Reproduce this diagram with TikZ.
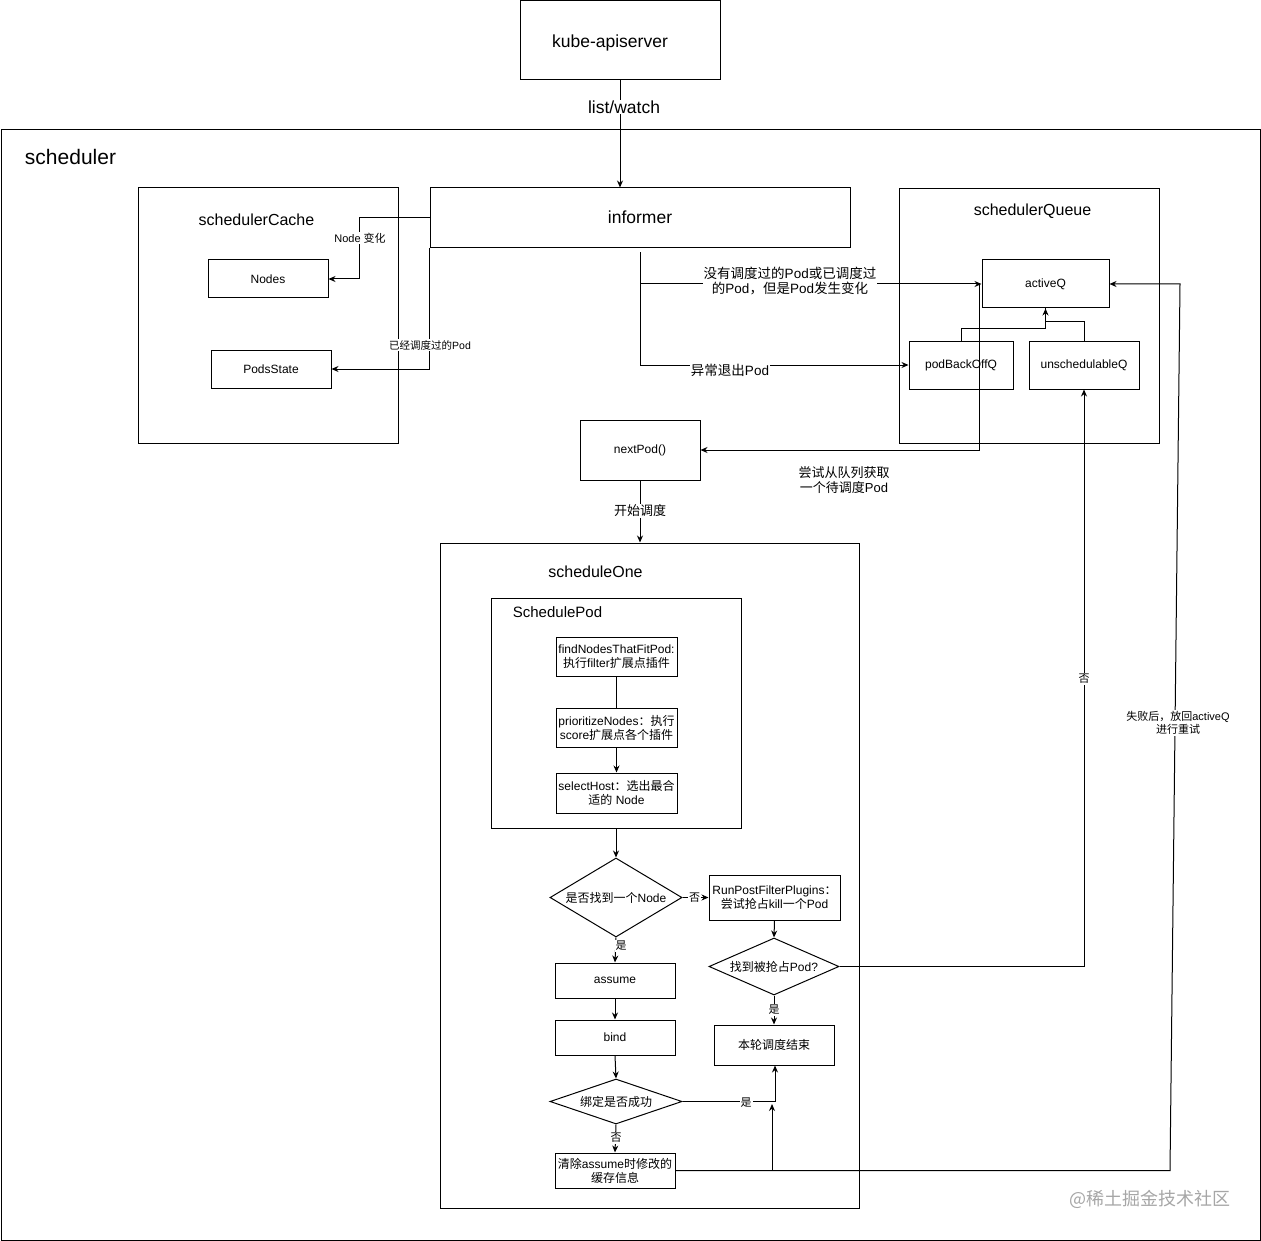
\documentclass[tikz,border=0pt]{standalone}
\usepackage{fontspec}
\setmainfont{Liberation Sans}
\newfontfamily\cjkfont{Noto Sans CJK SC}
\newcommand\zh[1]{{\cjkfont #1}}
\usetikzlibrary{arrows.meta,shapes.geometric,calc}
\tikzset{
  box/.style={draw, rectangle, inner sep=0pt, align=center},
  dia/.style={draw, diamond, inner sep=0pt, align=center},
  arr/.style={-{Stealth[length=7pt,width=6pt]}},
  lbl/.style={fill=white, inner sep=1pt, align=center},
  fa/.style={font=\fontsize{10.5}{12.5}\selectfont},
  fb/.style={font=\fontsize{11}{13}\selectfont},
  fc/.style={font=\fontsize{12}{14}\selectfont},
  fd/.style={font=\fontsize{13}{15}\selectfont},
  fe/.style={font=\fontsize{13.5}{15}\selectfont},
  ff/.style={font=\fontsize{15}{18}\selectfont},
  fg/.style={font=\fontsize{16}{19}\selectfont},
  fh/.style={font=\fontsize{17.5}{21}\selectfont},
  fi/.style={font=\fontsize{21}{25}\selectfont},
}
\begin{document}
\begin{tikzpicture}[x=1pt,y=-1pt,line width=1pt]
\useasboundingbox (0,0) rectangle (1261,1241);
% containers
\node[box, minimum width=1259, minimum height=1110] (sched) at (630.5,685) {};
\node[fi] (schedT) at (70.5,157) {scheduler};
\node[box, minimum width=200, minimum height=79] (api) at (620,40.5) {};
\node[fh] (apiT) at (610,43) {kube-apiserver};
\node[box, minimum width=260, minimum height=255] (cache) at (268,315.5) {};
\node[fg] (cacheT) at (256.5,220) {schedulerCache};
\node[box, minimum width=420, minimum height=60] (informer) at (640,218) {};
\node[fh] (informerT) at (640,217) {informer};
\node[box, fc, minimum width=120, minimum height=38] (nodes) at (268,279) {Nodes};
\node[box, fc, minimum width=120, minimum height=38] (pods) at (271,369) {PodsState};
\node[box, minimum width=260, minimum height=254] (queue) at (1029,316) {};
\node[fg] (queueT) at (1032.5,211) {schedulerQueue};
\node[box, fc, minimum width=127, minimum height=48] (activeQ) at (1045.5,284) {activeQ};
\node[box, fc, minimum width=104, minimum height=48] (backoffQ) at (961,365) {podBackOffQ};
\node[box, fc, minimum width=110, minimum height=48] (unschedQ) at (1084,365) {unschedulableQ};
\node[box, fc, minimum width=120, minimum height=60] (nextPod) at (640,450) {nextPod()};
\node[box, minimum width=419, minimum height=665] (one) at (649.5,875.5) {};
\node[fg] (oneT) at (595.5,572) {scheduleOne};
\node[box, minimum width=250, minimum height=230] (spod) at (616,713) {};
\node[ff] (spodT) at (557.5,612) {SchedulePod};
\node[box, fc, minimum width=121, minimum height=39] (find) at (616.5,656.5) {findNodesThatFitPod:\\\zh{执行}filter\zh{扩展点插件}};
\node[box, fc, minimum width=121, minimum height=39] (prio) at (616.5,727.5) {prioritizeNodes\zh{：执行}\\score\zh{扩展点各个插件}};
\node[box, fc, minimum width=121, minimum height=40] (select) at (616.5,793) {selectHost\zh{：选出最合}\\\zh{适的} Node};
\node[dia, fc, minimum width=132, minimum height=79, aspect=1.67] (d1) at (616,897.5) {\zh{是否找到一个}Node};
\node[box, fc, minimum width=131, minimum height=45] (rpf) at (774.5,897.5) {RunPostFilterPlugins\zh{：}\\\zh{尝试抢占}kill\zh{一个}Pod};
\node[dia, fc, minimum width=130, minimum height=57, aspect=2.28] (d2) at (774,966.5) {\zh{找到被抢占}Pod?};
\node[box, fc, minimum width=120, minimum height=40] (endb) at (774,1045) {\zh{本轮调度结束}};
\node[box, fc, minimum width=120, minimum height=35] (assume) at (615,980.5) {assume};
\node[box, fc, minimum width=120, minimum height=35] (bind) at (615,1037.5) {bind};
\node[dia, fc, minimum width=132, minimum height=45, aspect=2.9] (d3) at (616,1101.5) {\zh{绑定是否成功}};
\node[box, fc, minimum width=120, minimum height=35] (clear) at (615,1170.5) {\zh{清除}assume\zh{时修改的}\\\zh{缓存信息}};
% connectors
\draw[arr] (api.south) -- (api.south |- informer.north);
\draw[arr] (informer.west) -- ++(-70,0) |- (nodes.east);
\draw[arr] (informer.south west) |- (pods.east);
\draw[arr] ([yshift=-4pt]informer.south) |- (backoffQ.west);
\draw[arr] (informer.south |- activeQ.west) -- (activeQ.west);
\draw[arr] (backoffQ.north) -- ++(0,-12) -| (activeQ.south);
\draw (unschedQ.north) -- ++(0,-19) -| (activeQ.south);
\draw[arr] ([xshift=-2pt]activeQ.west) |- (nextPod.east);
\draw[arr] (nextPod.south) -- (nextPod.south |- one.north);
\draw (find.south) -- (prio.north);
\draw[arr] (prio.south) -- (select.north);
\draw[arr] (spod.south) -- (d1.north);
\draw[arr] (d1.east) -- (rpf.west);
\draw[arr] (rpf.south) -- (d2.north);
\draw[arr] (d2.south) -- (endb.north);
\draw[arr] (d2.east) -| (unschedQ.south);
\draw[arr] (d1.south) -- (assume.north);
\draw[arr] (assume.south) -- (bind.north);
\draw[arr] (bind.south) -- (d3.north);
\draw[arr] (d3.east) -| ([xshift=1pt]endb.south);
\draw[arr] (d3.south) -- (clear.north);
\coordinate (join) at (772,1104);
\coordinate (rb) at (1170,1170.5);
\coordinate (rt) at (1180,284);
\draw[arr] (clear.east) -| (join);
\draw[arr] (clear.east) -- (rb) -- (rt) -- (activeQ.east);
% labels
\node[lbl, fh] at (624,107) {list/watch};
\node[lbl, fb] at (360,238) {Node \zh{变化}};
\node[lbl, fa] at (430,345) {\zh{已经调度过的}Pod};
\node[lbl, fe] at (790,281) {\zh{没有调度过的}Pod\zh{或已调度过}\\\zh{的}Pod\zh{，但是}Pod\zh{发生变化}};
\node[lbl, fe] at (730,370) {\zh{异常退出}Pod};
\node[lbl, fd] at (844,480) {\zh{尝试从队列获取}\\\zh{一个待调度}Pod};
\node[lbl, fd] at (640,511) {\zh{开始调度}};
\node[lbl, fb] at (694.5,897.5) {\zh{否}};
\node[lbl, fb] at (621,946) {\zh{是}};
\node[lbl, fb] at (774,1010) {\zh{是}};
\node[lbl, fb] at (1084,679) {\zh{否}};
\node[lbl, fb] at (746,1103) {\zh{是}};
\node[lbl, fb] at (616,1138) {\zh{否}};
\node[lbl, fb] at (1178,723) {\zh{失败后，放回}activeQ\\\zh{进行重试}};
\node[font=\fontsize{18}{21}\selectfont, text=black!35] at (1150,1199) {\zh{@稀土掘金技术社区}};
\end{tikzpicture}
\end{document}
